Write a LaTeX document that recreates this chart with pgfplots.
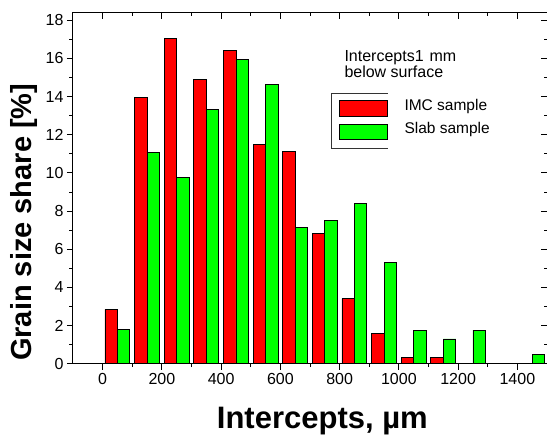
\documentclass[border=0pt]{standalone}
\usepackage{pgfplots}
\pgfplotsset{compat=1.18}
\usepackage{fontspec}
\setmainfont{Liberation Sans}

\begin{document}
\begin{tikzpicture}
  \useasboundingbox (-73pt,-78pt) rectangle (474pt,363.7pt);

  % ---------- common limits ----------
  \pgfplotsset{
    grainbox/.style={
      at={(0,0)}, anchor=south west,
      scale only axis, width=474pt, height=351pt,
      xmin=-100, xmax=1500, ymin=0, ymax=18.4,
      xtick={0,200,...,1400}, ytick={0,2,...,18},
      minor x tick num=1, minor y tick num=1,
      axis line style={line width=1pt},
      every tick/.style={black, line width=0.9pt},
      major tick length=6pt, minor tick length=3.5pt,
    }
  }

  % main axis: bars, outward ticks on left and bottom
  \begin{axis}[
    grainbox,
    xtick pos=bottom, ytick pos=left,
    tick align=outside,
    /pgf/number format/assume math mode=true,
    /pgf/number format/1000 sep={},
    ticklabel style={font=\fontsize{16}{18}\selectfont},
    xlabel={Intercepts, µm},
    ylabel={Grain size share [\%]},
    xlabel style={font=\fontsize{31}{34}\bfseries\selectfont,
      at={(axis description cs:0.526,0)}, anchor=base, yshift=-65.3pt},
    ylabel style={font=\fontsize{29}{32}\bfseries\selectfont,
      at={(axis description cs:0,0.403)}, anchor=base, yshift=41pt},
  ]
    \addplot[ybar, bar width=42, bar shift=0pt, fill=red, draw=black, line width=0.8pt]
      coordinates {
        (29,2.85) (129,13.97) (229,17.05) (329,14.88) (429,16.4) (529,11.48)
        (629,11.12) (729,6.82) (829,3.41) (929,1.58) (1029,0.33) (1129,0.33)
      };
    \addplot[ybar, bar width=42, bar shift=0pt, fill=green, draw=black, line width=0.8pt]
      coordinates {
        (71,1.78) (171,11.07) (271,9.75) (371,13.32) (471,15.95) (571,14.62)
        (671,7.12) (771,7.5) (871,8.4) (971,5.32) (1071,1.76) (1171,1.3)
        (1271,1.76) (1471,0.47)
      };
  \end{axis}

  % overlay axis: inward ticks on top and right
  \begin{axis}[
    grainbox,
    xtick pos=top, ytick pos=right,
    tick align=inside,
    xticklabels={}, yticklabels={},
  ]
  \end{axis}

  % ---------- annotation ----------
  \node[anchor=base west, inner sep=0pt, font=\fontsize{16}{18}\selectfont]
    at (271.3pt,301.7pt) {Intercepts1\hspace{6pt}mm};
  \node[anchor=base west, inner sep=0pt, font=\fontsize{16}{18}\selectfont]
    at (271.3pt,285.7pt) {below surface};

  % ---------- legend (open on the right, as in the original) ----------
  \draw[black!80, line width=0.8pt]
    (314.7pt,270.7pt) -- (258.7pt,270.7pt) -- (258.7pt,215pt) -- (314.7pt,215pt);
  \draw[fill=red, draw=black, line width=0.8pt] (266pt,247pt) rectangle (314pt,263pt);
  \draw[fill=green, draw=black, line width=0.8pt] (266pt,224pt) rectangle (314pt,239.3pt);
  \node[anchor=base west, inner sep=0pt, font=\fontsize{15.5}{17}\selectfont]
    at (331.3pt,253.3pt) {IMC sample};
  \node[anchor=base west, inner sep=0pt, font=\fontsize{15.5}{17}\selectfont]
    at (331.3pt,230pt) {Slab sample};
\end{tikzpicture}
\end{document}
